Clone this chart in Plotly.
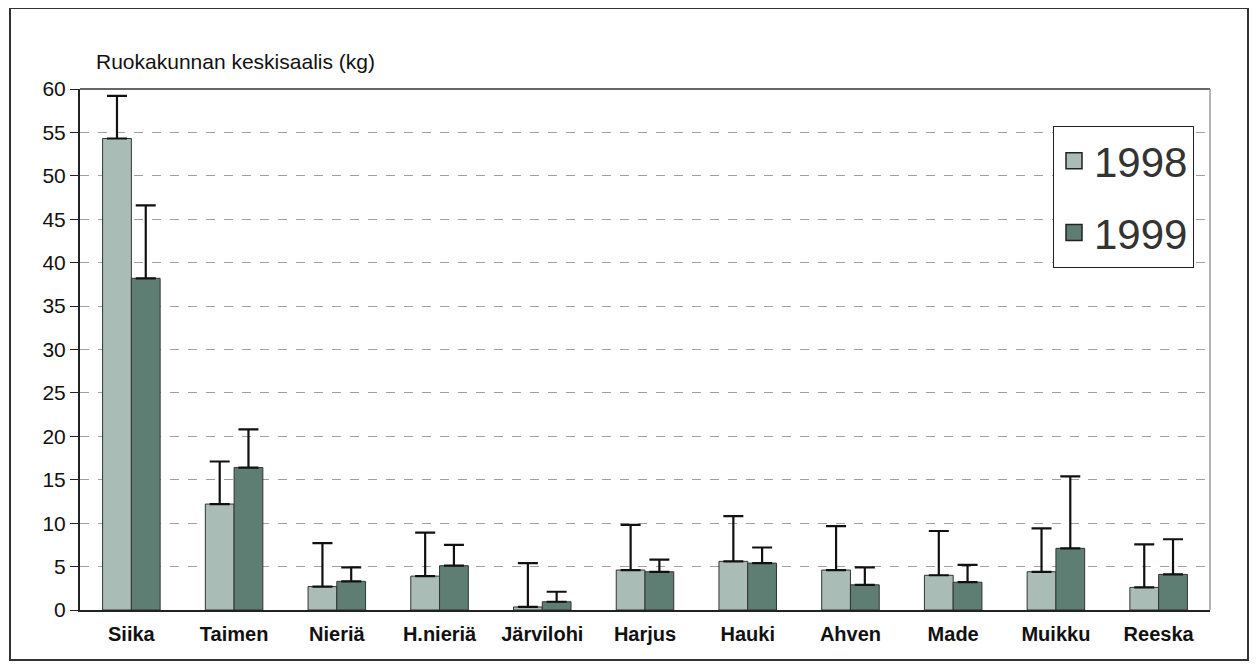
import plotly.graph_objects as go

categories = ["Siika", "Taimen", "Nieriä", "H.nieriä", "Järvilohi", "Harjus",
              "Hauki", "Ahven", "Made", "Muikku", "Reeska"]
mean_1998 = [54.3, 12.2, 2.7, 3.9, 0.35, 4.6, 5.6, 4.6, 4.0, 4.4, 2.6]
mean_1999 = [38.2, 16.4, 3.3, 5.1, 0.95, 4.4, 5.4, 2.9, 3.2, 7.1, 4.1]
upper_1998 = [59.2, 17.1, 7.7, 8.9, 5.4, 9.8, 10.8, 9.65, 9.1, 9.4, 7.55]
upper_1999 = [46.6, 20.8, 4.9, 7.5, 2.1, 5.8, 7.2, 4.9, 5.2, 15.4, 8.15]
series_names = ["1998", "1999"]
series_colors = ["#a9bdb6", "#5f7e73"]

err_1998 = [u - m for u, m in zip(upper_1998, mean_1998)]
err_1999 = [u - m for u, m in zip(upper_1999, mean_1999)]

fig = go.Figure()
for name, vals, err, col in zip(series_names, [mean_1998, mean_1999],
                                [err_1998, err_1999], series_colors):
    fig.add_trace(go.Bar(
        name=name, x=categories, y=vals, showlegend=False,
        marker=dict(color=col, line=dict(color="#333333", width=1)),
        error_y=dict(type="data", array=err, arrayminus=[0]*len(err),
                     symmetric=False, color="#111111", thickness=2.2, width=10),
    ))
# legend entries with larger square swatches
for i, (name, col) in enumerate(zip(series_names, series_colors)):
    fig.add_trace(go.Scatter(
        name=name, x=[None], y=[None], mode="markers", legendgroup=name,
        marker=dict(symbol="square", size=16, color=col,
                    line=dict(color="#222222", width=1.5)),
    ))

# page body has an 8px margin, so margins are offset by 8px
fig.update_layout(
    width=1260, height=671,
    margin=dict(l=72, r=58, t=81, b=69),
    paper_bgcolor="white", plot_bgcolor="white",
    barmode="group", bargap=0.44, bargroupgap=0.0,
    font=dict(family="Liberation Sans, Arial, sans-serif", color="#111111"),
    legend=dict(
        x=(1053 - 80) / 1130, y=(610 - 126) / 521, xanchor="left", yanchor="top",
        bgcolor="white", bordercolor="#222222", borderwidth=1,
        font=dict(size=42, color="#333333"),
        tracegroupgap=14, itemsizing="trace",
    ),
    annotations=[dict(
        text="Ruokakunnan keskisaalis (kg)", xref="paper", yref="paper",
        x=(94 - 80) / 1130, y=(610 - 62) / 521, xanchor="left", yanchor="middle",
        showarrow=False, font=dict(size=21, color="#111111"),
    )],
    shapes=[dict(
        type="rect", xref="paper", yref="paper",
        x0=(10 - 80) / 1130, x1=(1248 - 80) / 1130,
        y0=(610 - 660) / 521, y1=(610 - 8) / 521,
        line=dict(color="#333333", width=2), fillcolor="rgba(0,0,0,0)",
        layer="below",
    )],
)

fig.update_yaxes(
    range=[0, 60], dtick=5, tick0=0,
    showgrid=True, gridcolor="#a0a0a0", griddash="dash", gridwidth=1,
    showline=True, linecolor="#222222", linewidth=2,
    ticks="outside", ticklen=8, tickcolor="#222222",
    tickfont=dict(size=21, color="#111111"),
    zeroline=False,
)
fig.update_xaxes(
    showline=True, linecolor="#222222", linewidth=2,
    ticks="", tickfont=dict(size=20, color="#111111", family="Liberation Sans, Arial, sans-serif", weight="bold"),
    ticklabelstandoff=5,
)
# top and right frame of plot area
fig.add_shape(type="line", xref="paper", yref="paper", x0=0, x1=1, y0=1, y1=1,
              line=dict(color="#333333", width=1.5))
fig.add_shape(type="line", xref="paper", yref="paper", x0=1, x1=1, y0=0, y1=1,
              line=dict(color="#999999", width=1.5))

fig.write_html("out.html")
